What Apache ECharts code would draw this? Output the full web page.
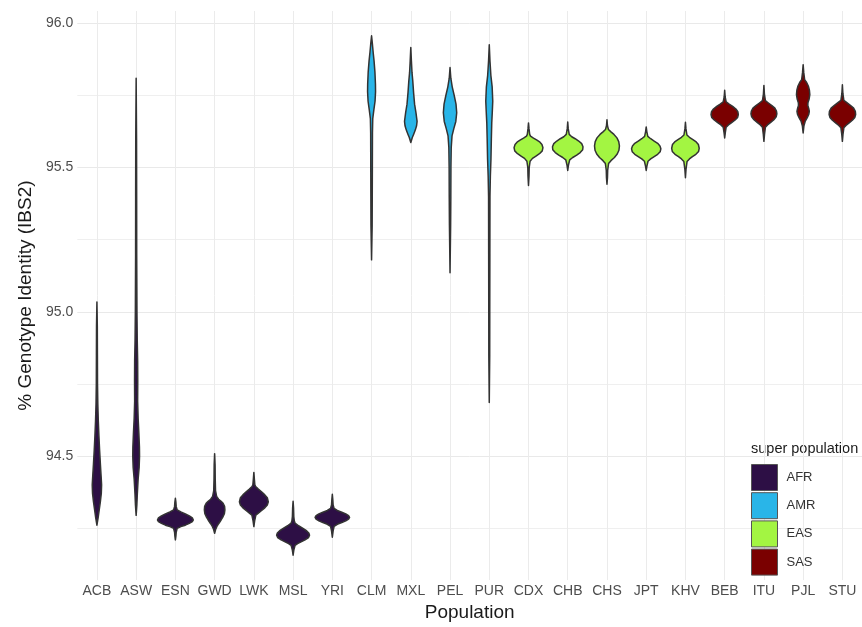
<!DOCTYPE html>
<html>
<head>
<meta charset="utf-8">
<script src="https://cdn.jsdelivr.net/npm/echarts@6/dist/echarts.min.js"></script>
<style>
  html, body { margin: 0; padding: 0; background: #ffffff; }
  #chart { width: 862px; height: 627px; }
</style>
</head>
<body>
<div id="chart"></div>
<script>
// ---- Data ----
const populations = ['ACB','ASW','ESN','GWD','LWK','MSL','YRI','CLM','MXL','PEL','PUR','CDX','CHB','CHS','JPT','KHV','BEB','ITU','PJL','STU'];
const superOf     = ['AFR','AFR','AFR','AFR','AFR','AFR','AFR','AMR','AMR','AMR','AMR','EAS','EAS','EAS','EAS','EAS','SAS','SAS','SAS','SAS'];
const superPops   = ['AFR','AMR','EAS','SAS'];
const yTicks      = [94.5, 95.0, 95.5, 96.0];

// Violin profiles: [% genotype identity, relative density (half-width)]
const ACB = [[95.034,0],[94.95,0.4],[94.85,0.5],[94.75,0.6],[94.68,0.9],[94.62,1.4],[94.57,2.0],[94.52,2.7],[94.47,3.5],[94.43,4.2],[94.40,4.7],[94.37,4.4],[94.34,3.4],[94.31,2.2],[94.285,1.2],[94.26,0]];
const ASW = [[95.81,0],[95.6,0.4],[95.4,0.5],[95.2,0.55],[95.0,0.8],[94.9,1.1],[94.83,1.5],[94.76,1.6],[94.69,1.5],[94.63,2.0],[94.58,2.7],[94.53,3.3],[94.50,3.4],[94.46,3.0],[94.42,2.0],[94.37,1.2],[94.33,0.7],[94.294,0]];
const ESN = [[94.353,0],[94.34,0.5],[94.325,0.8],[94.313,1.8],[94.306,5.5],[94.299,10],[94.292,14],[94.285,17],[94.278,18],[94.272,17],[94.266,14],[94.26,10],[94.255,5.5],[94.249,1.8],[94.235,0.8],[94.222,0.5],[94.209,0]];
const GWD = [[94.508,0],[94.47,0.45],[94.42,0.6],[94.38,0.9],[94.36,2],[94.35,4],[94.343,6.5],[94.336,8.5],[94.325,10],[94.313,10.3],[94.30,9.8],[94.29,8.5],[94.278,6.5],[94.265,4],[94.255,2.2],[94.245,1],[94.232,0]];
const LWK = [[94.443,0],[94.42,0.5],[94.40,1],[94.394,1.8],[94.385,4.5],[94.375,8],[94.365,11],[94.355,13.5],[94.341,14.5],[94.33,13.5],[94.32,11],[94.31,7.5],[94.302,4.5],[94.295,2],[94.275,0.8],[94.255,0]];
const MSL = [[94.343,0],[94.32,0.45],[94.29,0.7],[94.275,1.2],[94.267,2],[94.258,5.5],[94.25,9.5],[94.242,13],[94.233,15.8],[94.225,16.5],[94.217,15.5],[94.209,12],[94.202,8],[94.196,4.5],[94.19,2],[94.175,0.8],[94.156,0]];
const YRI = [[94.367,0],[94.35,0.45],[94.33,0.8],[94.318,1.8],[94.311,5],[94.305,9.5],[94.299,13.5],[94.293,16.3],[94.287,17.3],[94.281,16.3],[94.275,13.5],[94.269,9.5],[94.263,5],[94.256,1.8],[94.24,0.8],[94.218,0]];
const CLM = [[95.957,0],[95.93,0.8],[95.90,1.6],[95.87,2.5],[95.83,3.4],[95.79,3.9],[95.763,4],[95.73,3.5],[95.70,2.3],[95.67,1.2],[95.62,0.9],[95.5,0.8],[95.4,0.7],[95.3,0.6],[95.18,0]];
const MXL = [[95.916,0],[95.87,0.6],[95.83,1.2],[95.80,2.0],[95.76,2.8],[95.72,3.8],[95.69,5.2],[95.66,6.3],[95.645,5.8],[95.63,4.5],[95.615,2.8],[95.605,1.6],[95.587,0]];
const PEL = [[95.847,0],[95.81,0.8],[95.78,2.2],[95.75,4.2],[95.72,6],[95.69,6.7],[95.66,5.8],[95.635,3.8],[95.61,2],[95.57,1.2],[95.5,0.9],[95.4,0.8],[95.3,0.6],[95.135,0]];
const PUR = [[95.926,0],[95.87,0.7],[95.82,1.6],[95.78,2.9],[95.73,3.5],[95.69,3],[95.656,2.5],[95.6,2.1],[95.53,1.7],[95.47,1.1],[95.4,0.7],[95.2,0.6],[95.0,0.5],[94.85,0.45],[94.685,0]];
const CDX = [[95.655,0],[95.635,0.5],[95.615,1.2],[95.609,2],[95.602,5],[95.595,8.5],[95.588,11.5],[95.58,13.5],[95.569,14.5],[95.558,13.8],[95.548,11],[95.54,7.5],[95.532,4],[95.522,1.6],[95.5,0.7],[95.47,0.5],[95.438,0]];
const CHB = [[95.658,0],[95.635,0.5],[95.615,1.5],[95.607,4],[95.6,7.5],[95.592,11],[95.583,14],[95.572,15.3],[95.562,15],[95.552,12.5],[95.543,9],[95.535,5],[95.527,2],[95.51,0.8],[95.49,0]];
const CHS = [[95.666,0],[95.645,0.5],[95.632,1.5],[95.624,4],[95.615,7],[95.603,10],[95.59,11.8],[95.575,12.5],[95.56,12],[95.547,10.3],[95.535,7.5],[95.524,4],[95.514,1.6],[95.49,0.7],[95.465,0.5],[95.442,0]];
const JPT = [[95.641,0],[95.625,0.6],[95.608,1.6],[95.6,4.5],[95.592,8],[95.584,11.5],[95.575,13.8],[95.565,14.7],[95.555,14],[95.546,11.5],[95.538,8],[95.53,4.5],[95.522,1.8],[95.505,0.7],[95.49,0]];
const KHV = [[95.657,0],[95.635,0.5],[95.613,1.5],[95.605,4],[95.597,7.5],[95.589,10.8],[95.58,13],[95.567,13.8],[95.556,13.2],[95.546,10.5],[95.538,7],[95.53,4],[95.521,1.6],[95.495,0.6],[95.465,0]];
const BEB = [[95.768,0],[95.745,0.5],[95.728,1.5],[95.72,4.5],[95.712,8],[95.703,11.3],[95.694,13.2],[95.684,13.7],[95.674,13],[95.665,10.5],[95.656,7],[95.648,3.8],[95.64,1.5],[95.62,0.6],[95.603,0]];
const ITU = [[95.785,0],[95.755,0.5],[95.732,1.5],[95.724,4.5],[95.715,8],[95.706,11],[95.696,12.6],[95.686,13],[95.676,12.3],[95.666,10],[95.657,6.8],[95.648,3.6],[95.64,1.5],[95.615,0.6],[95.591,0]];
const PJL = [[95.857,0],[95.83,0.6],[95.805,1.5],[95.795,3.5],[95.783,5.2],[95.768,6.3],[95.753,6.7],[95.738,6],[95.725,4.8],[95.715,4.7],[95.705,5.6],[95.695,6.2],[95.684,5.6],[95.672,4],[95.66,2],[95.645,0.8],[95.62,0]];
const STU = [[95.787,0],[95.757,0.5],[95.733,1.5],[95.725,4.5],[95.716,8],[95.706,11.3],[95.695,13],[95.684,13.3],[95.674,12.5],[95.664,10],[95.655,6.8],[95.646,3.6],[95.638,1.5],[95.615,0.6],[95.591,0]];

const profiles = {ACB,ASW,ESN,GWD,LWK,MSL,YRI,CLM,MXL,PEL,PUR,CDX,CHB,CHS,JPT,KHV,BEB,ITU,PJL,STU};

// ---- Styles ----
const palette = {AFR:'#2d0f45', AMR:'#29b5e8', EAS:'#a3f542', SAS:'#7a0000'};
const FONT = "'Liberation Sans Narrow', 'Liberation Sans', Arial, sans-serif";
const DENSITY_REF = 39.37; // density units are expressed relative to this band width

function renderViolin(params, api) {
  const i = api.value(0);
  const prof = profiles[populations[i]];
  const band = api.size([1, 0])[0];
  const k = band / DENSITY_REF;
  const right = [], left = [];
  prof.forEach(function (pt) {
    const c = api.coord([i, pt[0]]);
    right.push([c[0] + pt[1] * k, c[1]]);
    left.unshift([c[0] - pt[1] * k, c[1]]);
  });
  return {
    type: 'polygon',
    shape: { points: right.concat(left) },
    style: { fill: api.visual('color'), stroke: '#333333', lineWidth: 1.5, lineJoin: 'round' }
  };
}

const series = superPops.map(function (sp) {
  const data = [];
  populations.forEach(function (p, i) { if (superOf[i] === sp) data.push([i]); });
  return {
    name: sp,
    type: 'custom',
    renderItem: renderViolin,
    encode: { x: 0 },
    itemStyle: { color: palette[sp], borderColor: '#4d4d4d', borderWidth: 1 },
    data: data,
    clip: true
  };
});

const chart = echarts.init(document.getElementById('chart'), null, { renderer: 'canvas' });
chart.setOption({
  animation: false,
  backgroundColor: '#ffffff',
  textStyle: { fontFamily: FONT },
  grid: { left: 77.3, top: 11, width: 787.4, height: 571, containLabel: false },
  xAxis: {
    type: 'category',
    data: populations,
    boundaryGap: true,
    name: 'Population',
    nameLocation: 'middle',
    nameGap: 22,
    nameTextStyle: { fontSize: 19, color: '#1a1a1a', fontFamily: FONT, verticalAlign: 'top' },
    axisLine: { show: false },
    axisTick: { show: false },
    axisLabel: { interval: 0, color: '#4d4d4d', fontSize: 14, margin: 4, fontFamily: FONT },
    splitLine: { show: true, interval: 0, alignWithLabel: true, lineStyle: { color: '#ebebeb', width: 1 } }
  },
  yAxis: {
    type: 'value',
    min: 94.0695,
    max: 96.043,
    splitNumber: 4,
    name: '% Genotype Identity (IBS2)',
    nameLocation: 'middle',
    nameGap: 42,
    nameRotate: 90,
    nameTextStyle: { fontSize: 19, color: '#1a1a1a', fontFamily: FONT },
    axisLine: { show: false },
    axisTick: { show: false },
    axisLabel: {
      showMinLabel: false, showMaxLabel: false,
      color: '#4d4d4d', fontSize: 14, margin: 4, fontFamily: FONT,
      formatter: function (v) { return yTicks.some(function (t) { return Math.abs(t - v) < 1e-6; }) ? v.toFixed(1) : ''; }
    },
    splitLine: { show: true, showMinLine: false, showMaxLine: false, lineStyle: { color: '#e9e9e9', width: 1 } },
    minorTick: { show: false, splitNumber: 2 },
    minorSplitLine: { show: true, lineStyle: { color: '#efefef', width: 1 } }
  },
  legend: {
    orient: 'vertical',
    left: 751,
    top: 464,
    padding: 0,
    itemWidth: 26,
    itemHeight: 26,
    itemGap: 1.2,
    selectedMode: false,
    textStyle: { fontSize: 13, color: '#333333', fontFamily: FONT, padding: [0, 0, 0, 4] },
    data: superPops.map(function (sp) {
      return { name: sp, icon: 'rect', itemStyle: { color: palette[sp], borderColor: '#555555', borderWidth: 1 } };
    })
  },
  graphic: [{
    type: 'text',
    left: 751,
    top: 441,
    style: { text: 'super population', fontSize: 14.5, fill: '#1a1a1a', fontFamily: FONT }
  }],
  series: series
});
</script>
</body>
</html>
